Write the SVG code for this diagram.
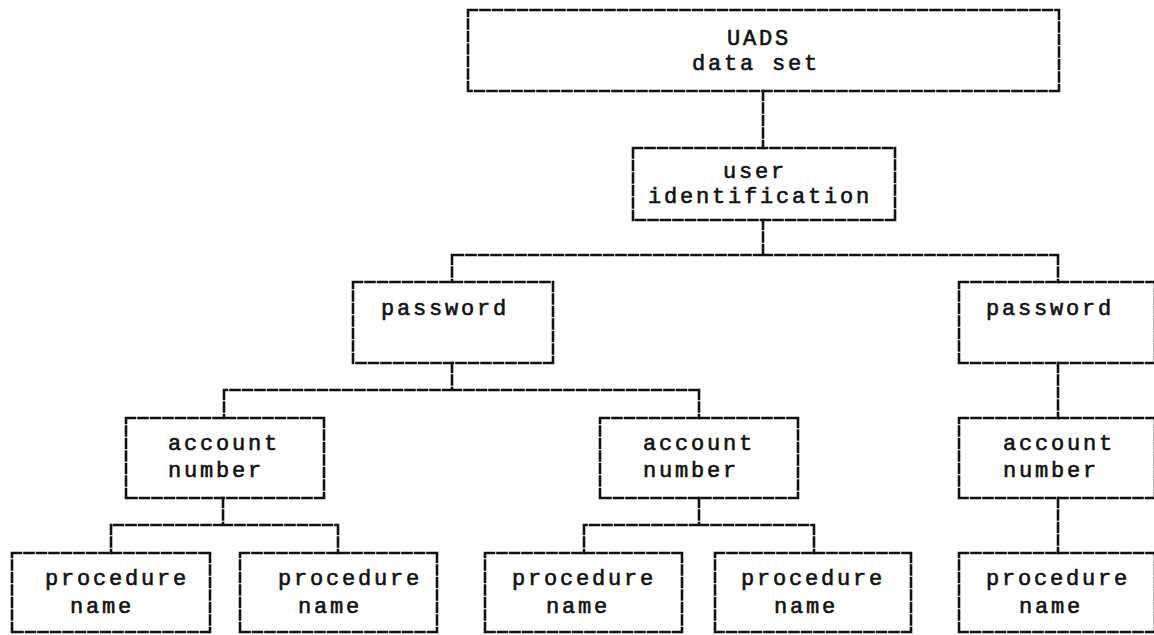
<svg xmlns="http://www.w3.org/2000/svg" width="1154" height="635" viewBox="0 0 1154 635">
<style>
.box{fill:none;stroke:#111;stroke-width:2.6;stroke-dasharray:9 3.5;stroke-linecap:square}
.con{fill:none;stroke:#111;stroke-width:2.6;stroke-dasharray:9 3.5;stroke-linecap:square}
text{font-family:"Liberation Mono","Courier New",monospace;font-size:22px;letter-spacing:2.8px;fill:#111;stroke:#111;stroke-width:0.6}
</style>
<rect width="1154" height="635" fill="#fff"/>
<g id="connectors">
<path class="con" d="M763 91V148"/>
<path class="con" d="M763 220V255M763 255H452M763 255H1058M452 255V282M1058 255V282"/>
<path class="con" d="M452 363V390M452 390H224M452 390H699M224 390V418M699 390V418"/>
<path class="con" d="M1058 363V418"/>
<path class="con" d="M223 498V525M223 525H111M223 525H338M111 525V553M338 525V553"/>
<path class="con" d="M699 498V525M699 525H584M699 525H814M584 525V553M814 525V553"/>
<path class="con" d="M1058 498V553"/>
</g>
<g id="uads">
<path class="box" d="M468 10H1059M1059 10V91M1059 91H468M468 91V10"/>
<text x="727" y="45">UADS</text>
<text x="692" y="70">data set</text>
</g>
<g id="userid">
<path class="box" d="M633 148H895M895 148V220M895 220H633M633 220V148"/>
<text x="723" y="178">user</text>
<text x="648" y="203">identification</text>
</g>
<g id="password1">
<path class="box" d="M353 282H553M553 282V363M553 363H353M353 363V282"/>
<text x="381" y="315">password</text>
</g>
<g id="password2">
<path class="box" d="M959 282H1155M1155 282V363M1155 363H959M959 363V282"/>
<text x="986" y="315">password</text>
</g>
<g id="account1">
<path class="box" d="M126 418H324M324 418V498M324 498H126M126 498V418"/>
<text x="168" y="450">account</text>
<text x="168" y="477">number</text>
</g>
<g id="account2">
<path class="box" d="M600 418H798M798 418V498M798 498H600M600 498V418"/>
<text x="643" y="450">account</text>
<text x="643" y="477">number</text>
</g>
<g id="account3">
<path class="box" d="M959 418H1155M1155 418V498M1155 498H959M959 498V418"/>
<text x="1003" y="450">account</text>
<text x="1003" y="477">number</text>
</g>
<g id="proc1">
<path class="box" d="M12 553H210M210 553V632M210 632H12M12 632V553"/>
<text x="45" y="585">procedure</text>
<text x="70" y="613">name</text>
</g>
<g id="proc2">
<path class="box" d="M240 553H437M437 553V632M437 632H240M240 632V553"/>
<text x="278" y="585">procedure</text>
<text x="298" y="613">name</text>
</g>
<g id="proc3">
<path class="box" d="M485 553H682M682 553V632M682 632H485M485 632V553"/>
<text x="512" y="585">procedure</text>
<text x="546" y="613">name</text>
</g>
<g id="proc4">
<path class="box" d="M715 553H911M911 553V632M911 632H715M715 632V553"/>
<text x="741" y="585">procedure</text>
<text x="774" y="613">name</text>
</g>
<g id="proc5">
<path class="box" d="M959 553H1155M1155 553V632M1155 632H959M959 632V553"/>
<text x="986" y="585">procedure</text>
<text x="1019" y="613">name</text>
</g>
</svg>
